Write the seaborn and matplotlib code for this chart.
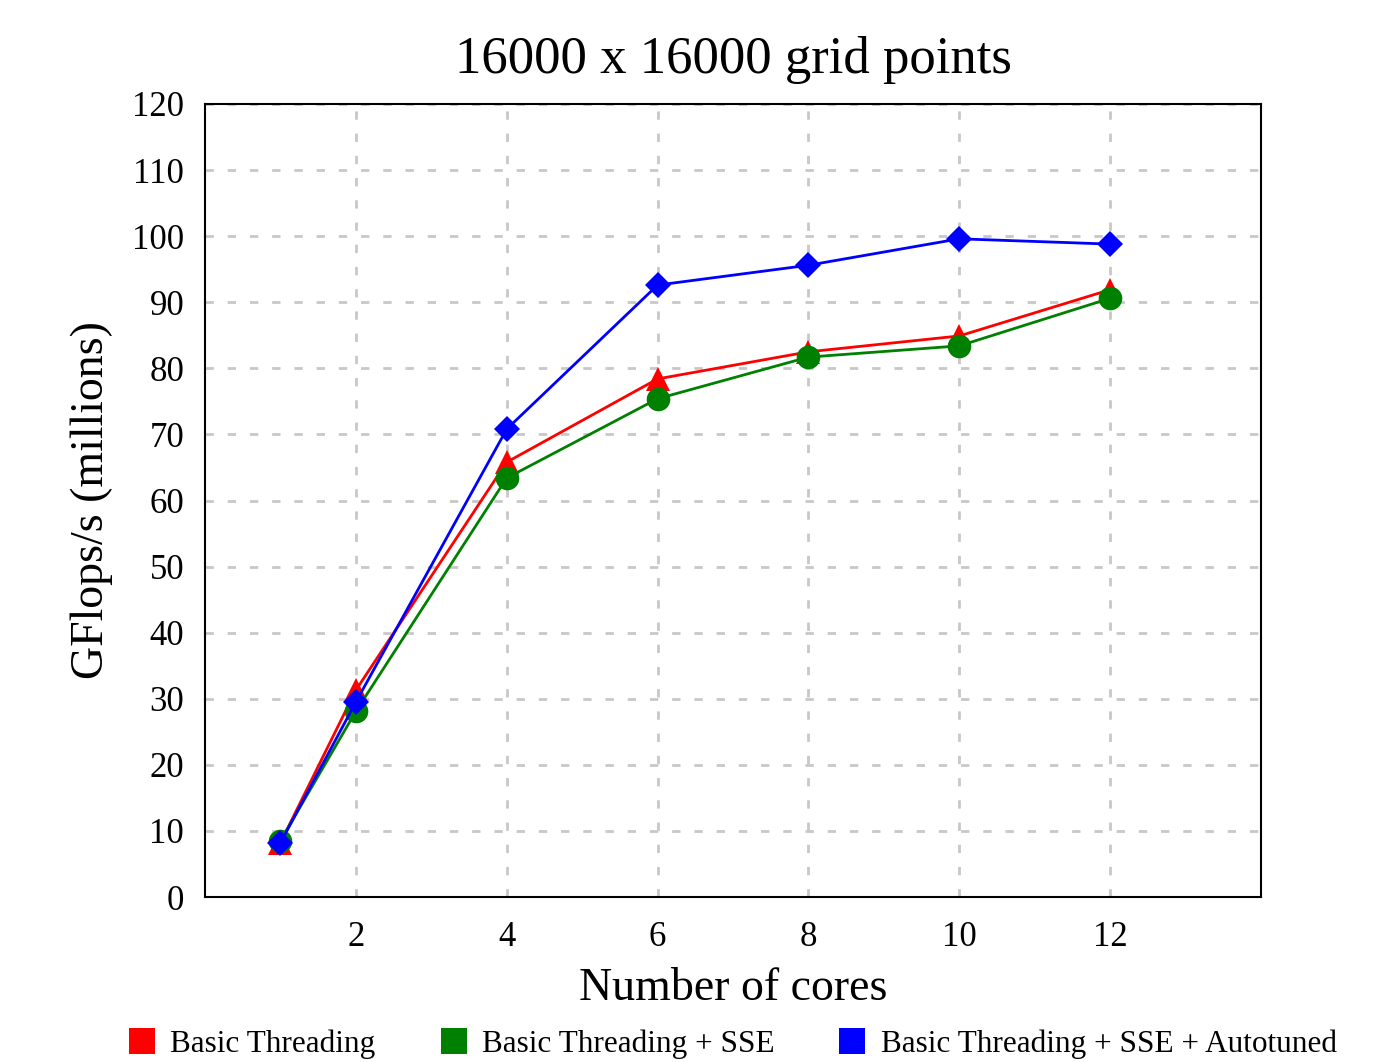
import matplotlib
matplotlib.use("Agg")
import matplotlib.pyplot as plt
import seaborn as sns
import pandas as pd
from matplotlib.lines import Line2D

cores = [1, 2, 4, 6, 8, 10, 12]
basic = [8.2, 31.3, 65.8, 78.4, 82.5, 84.9, 91.9]
sse = [8.5, 28.1, 63.4, 75.4, 81.7, 83.4, 90.6]
auto = [8.2, 29.5, 70.8, 92.6, 95.6, 99.6, 98.8]
series_names = ["Basic Threading", "Basic Threading + SSE", "Basic Threading + SSE + Autotuned"]
colors = ["#ff0000", "#008000", "#0000ff"]
markers = ["^", "o", "D"]
msizes = [17, 17, 13]

sns.set_theme(style="white")
plt.rcParams["font.family"] = ["Liberation Serif", "DejaVu Serif"]
plt.rcParams["text.color"] = "black"
plt.rcParams["axes.labelcolor"] = "black"
plt.rcParams["xtick.color"] = "black"
plt.rcParams["ytick.color"] = "black"

rows = []
for name, vals in zip(series_names, [basic, sse, auto]):
    for c, v in zip(cores, vals):
        rows.append({"cores": c, "value": v, "series": name})
df = pd.DataFrame(rows)

fig = plt.figure(figsize=(13.99, 10.62), dpi=100)
ax = fig.add_axes([205/1399, 1-897/1062, (1261-205)/1399, (897-104)/1062])

for name, col, mk, ms in zip(series_names, colors, markers, msizes):
    sub = df[df["series"] == name]
    sns.lineplot(data=sub, x="cores", y="value", ax=ax, color=col, marker=mk,
                 markersize=ms, markeredgewidth=0, linewidth=2, legend=False)

ax.set_xlim(0, 14)
ax.set_ylim(0, 120)
ax.set_xticks([2, 4, 6, 8, 10, 12])
ax.set_yticks(range(0, 121, 10))
ax.grid(True, color="#c8c8c8", linestyle=(0, (3, 5)), linewidth=2)
for s in ax.spines.values():
    s.set_color("black")
    s.set_linewidth(1.5)
ax.tick_params(axis="x", labelsize=25, length=0, pad=17, colors="black")
ax.tick_params(axis="y", labelsize=25, length=0, pad=15, colors="black")
ax.set_xlabel("Number of cores", fontsize=33, labelpad=10)
ax.set_ylabel("GFlops/s (millions)", fontsize=33, labelpad=14)
ax.set_title("16000 x 16000 grid points", fontsize=38, pad=22)

handles = [Line2D([0], [0], marker="s", color="none", markerfacecolor=c,
                  markeredgewidth=0, markersize=19) for c in colors]
fig.legend(handles, series_names, loc="lower center", ncol=3, frameon=False,
           fontsize=22.5, bbox_to_anchor=(0.524, -0.024), handlelength=0.8,
           handletextpad=0.5, columnspacing=2.1)

fig.savefig("out.png", dpi=100, facecolor="white")
